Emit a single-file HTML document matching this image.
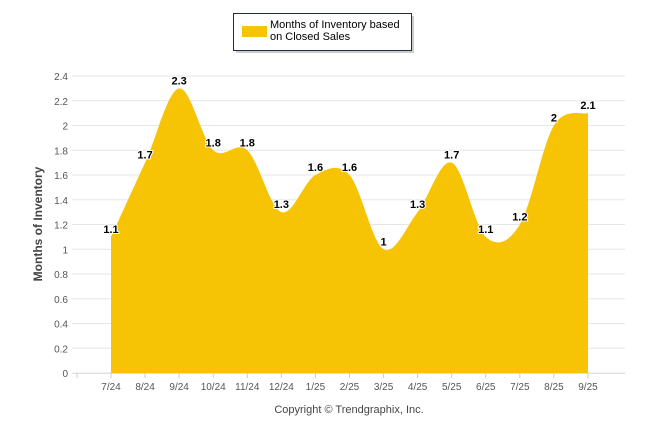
<!DOCTYPE html>
<html><head><meta charset="utf-8"><style>
body{margin:0;background:#fff;width:646px;height:434px;overflow:hidden;font-family:"Liberation Sans",sans-serif}
</style></head><body>
<svg id="c" width="646" height="434" xmlns="http://www.w3.org/2000/svg"></svg>
<script>
const categories=["7/24","8/24","9/24","10/24","11/24","12/24","1/25","2/25","3/25","4/25","5/25","6/25","7/25","8/25","9/25"];
const values=[1.1,1.7,2.3,1.8,1.8,1.3,1.6,1.6,1,1.3,1.7,1.1,1.2,2,2.1];
const yTicks=[0,0.2,0.4,0.6,0.8,1,1.2,1.4,1.6,1.8,2,2.2,2.4];
const NS="http://www.w3.org/2000/svg";
const svg=document.getElementById('c');
const x0=72,x1=625,yB=373,yT=76,yMax=2.4;
const step=34.07,first=111;
function xs(i){return first+i*step;}
function ys(v){return yB-(v/yMax)*(yB-yT);}
function mk(t,a,p){const e=document.createElementNS(NS,t);for(const k in a)e.setAttribute(k,a[k]);(p||svg).appendChild(e);return e;}
yTicks.forEach(v=>{
 const g=mk('line',{x1:x0,x2:x1,y1:ys(v),y2:ys(v),stroke:'#e6e6e6','stroke-width':1});
 
 
 const t=mk('text',{x:68,y:ys(v)+4,'text-anchor':'end','font-size':10,fill:'#555'});
 t.textContent=String(v);
 
 
});
const pts=values.map((v,i)=>[xs(i),ys(v)]);
const n=pts.length;
function P(i){return pts[Math.max(0,Math.min(n-1,i))];}
let d=`M${pts[0][0]},${yB}L${pts[0][0]},${pts[0][1]}`;
for(let i=1;i<n;i++){
 const a=P(i-2),b=P(i-1),c=P(i),e=P(i+1);
 const c1=[b[0]+(c[0]-a[0])/6,b[1]+(c[1]-a[1])/6];
 const c2=[c[0]-(e[0]-b[0])/6,c[1]-(e[1]-b[1])/6];
 d+=`C${c1[0]},${c1[1]} ${c2[0]},${c2[1]} ${c[0]},${c[1]}`;
}
d+=`L${pts[n-1][0]},${yB}Z`;
const area=mk('path',{d:d,fill:'#f7c305'});


mk('line',{x1:x0,x2:x1,y1:yB+0.5,y2:yB+0.5,stroke:'#e0e0e0'});
mk('line',{x1:77,x2:77,y1:yB,y2:yB+5,stroke:'#ccc'});
categories.forEach((c,i)=>{
 mk('line',{x1:xs(i),x2:xs(i),y1:yB,y2:yB+5,stroke:'#ccc'});
 const t=mk('text',{x:xs(i),y:390,'text-anchor':'middle','font-size':10,fill:'#555'});
 t.textContent=c;
 
 
 const l=mk('text',{x:xs(i),y:ys(values[i])-4,'text-anchor':'middle','font-size':11,'font-weight':'bold',fill:'#000',stroke:'#fff','stroke-width':2,'paint-order':'stroke'});
 l.textContent=String(values[i]);
 
 
});
const yt=mk('text',{x:0,y:0,transform:'translate(42,224) rotate(-90)','text-anchor':'middle','font-size':12,'font-weight':'bold',fill:'#444'});
yt.textContent='Months of Inventory';


const cp=mk('text',{x:349,y:413,'text-anchor':'middle','font-size':11,fill:'#444'});
cp.textContent='Copyright © Trendgraphix, Inc.';


const lg=mk('g',{});


mk('rect',{x:236,y:16,width:178,height:37,fill:'#999',opacity:0.5},lg);
mk('rect',{x:233.5,y:13.5,width:178,height:37,fill:'#fff',stroke:'#1f2d4d','stroke-width':1},lg);
mk('rect',{x:242,y:26,width:25,height:11,fill:'#f7c305'},lg);
const l1=mk('text',{x:270,y:28,'font-size':11,fill:'#000'},lg);l1.textContent='Months of Inventory based';
const l2=mk('text',{x:270,y:40,'font-size':11,fill:'#000'},lg);l2.textContent='on Closed Sales';
</script>
</body></html>
